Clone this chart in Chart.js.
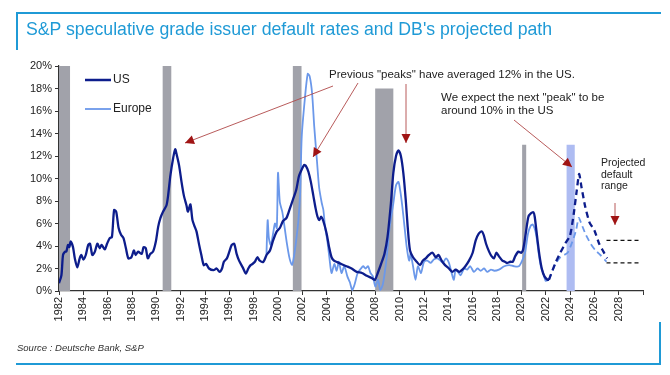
<!DOCTYPE html>
<html>
<head>
<meta charset="utf-8">
<script src="https://cdn.jsdelivr.net/npm/chart.js@4"></script>
<style>
  body { margin: 0; background: #fff; font-family: Arial, "Liberation Sans", sans-serif; }
  #wrap { position: relative; width: 670px; height: 375px; overflow: hidden; }
  #grafico { position: absolute; left: 0; top: 0; }
  .linha { position: absolute; background: #1f9ad6; }
  #titulo { position: absolute; left: 26px; top: 19px; font-size: 17.7px; color: #1f9ad6; white-space: nowrap; }
  #fonte { position: absolute; left: 17px; top: 342px; font-size: 9.5px; font-style: italic; color: #333; }
</style>
</head>
<body>
<div id="wrap">
  <canvas id="grafico" width="670" height="375"></canvas>
  <div class="linha" style="left:16px; top:12px; width:645px; height:2px;"></div>
  <div class="linha" style="left:16px; top:12px; width:2px; height:38px;"></div>
  <div id="titulo">S&amp;P speculative grade issuer default rates and DB's projected path</div>
  <div id="fonte">Source : Deutsche Bank, S&amp;P</div>
  <div class="linha" style="left:16px; top:363px; width:645px; height:2px;"></div>
  <div class="linha" style="left:659px; top:322px; width:2px; height:43px;"></div>
</div>
<script>
// US default rate (year, %)
const usAnos = [1982.0, 1982.2, 1982.33, 1982.5, 1982.6, 1982.74, 1982.85, 1982.96, 1983.15, 1983.3, 1983.5, 1983.7, 1983.84,
  1984.0, 1984.2, 1984.4, 1984.55, 1984.74, 1984.95, 1985.15, 1985.35, 1985.5, 1985.76, 1985.95, 1986.17, 1986.35, 1986.53,
  1986.7, 1986.9, 1987.1, 1987.3, 1987.5, 1987.7, 1987.95, 1988.15, 1988.3, 1988.5, 1988.8, 1988.95, 1989.13, 1989.3, 1989.5,
  1989.73, 1989.96, 1990.15, 1990.34, 1990.55, 1990.83, 1990.97, 1991.16, 1991.38, 1991.55, 1991.7, 1991.88, 1992.07, 1992.26,
  1992.48, 1992.6, 1992.8, 1992.97, 1993.16, 1993.3, 1993.52, 1993.7, 1993.9, 1994.1, 1994.33, 1994.7, 1994.96, 1995.2, 1995.4,
  1995.55, 1995.8, 1996.0, 1996.2, 1996.4, 1996.6, 1996.8, 1997.1, 1997.36, 1997.56, 1997.75, 1997.9, 1998.1, 1998.3, 1998.5,
  1998.8, 1999.06, 1999.34, 1999.6, 1999.9, 2000.15, 2000.4, 2000.7, 2000.98, 2001.25, 2001.5, 2001.72, 2001.95, 2002.15,
  2002.3, 2002.5, 2002.7, 2002.9, 2003.1, 2003.25, 2003.4, 2003.55, 2003.73, 2004.0, 2004.2, 2004.4, 2004.6, 2004.8, 2005.2,
  2005.64, 2006.05, 2006.47, 2006.9, 2007.3, 2007.7, 2007.97, 2008.2, 2008.47, 2008.75, 2009.0, 2009.28, 2009.48, 2009.7,
  2009.9, 2010.1, 2010.3, 2010.5, 2010.66, 2010.85, 2011.1, 2011.4, 2011.67, 2011.9, 2012.14, 2012.4, 2012.7, 2012.96, 2013.2,
  2013.45, 2013.73, 2014.05, 2014.33, 2014.6, 2014.9, 2015.15, 2015.4, 2015.7, 2016.0, 2016.25, 2016.5, 2016.75, 2016.9,
  2017.1, 2017.35, 2017.55, 2017.75, 2017.95, 2018.15, 2018.44, 2018.65, 2018.85, 2019.1, 2019.3, 2019.5, 2019.76, 2020.0,
  2020.15, 2020.36, 2020.58, 2020.78, 2021.0, 2021.1, 2021.3, 2021.5, 2021.7, 2021.9, 2022.15, 2022.27];
const usTaxas = [0.7, 1.4, 3.2, 3.5, 3.5, 4.1, 3.9, 4.4, 3.9, 2.9, 2.1, 2.9, 3.2,
  2.8, 3.2, 4.1, 4.2, 3.2, 3.5, 4.2, 3.8, 4.1, 3.7, 4.2, 4.7, 4.8, 7.2,
  7.05, 5.6, 5.0, 4.7, 3.8, 2.9, 3.0, 3.6, 3.2, 3.5, 3.3, 3.9, 3.8, 2.9, 3.3,
  3.5, 4.4, 5.7, 6.5, 7.05, 7.6, 8.5, 10.3, 11.8, 12.6, 12.0, 11.1, 9.7, 8.5,
  7.6, 7.05, 7.7, 6.3, 5.7, 5.3, 4.1, 3.2, 2.3, 2.4, 2.0, 1.85, 2.0, 1.7, 2.0,
  2.6, 2.9, 3.5, 4.1, 4.2, 3.3, 2.7, 2.1, 1.55, 2.0, 2.3, 2.4, 2.6, 3.0, 2.7,
  2.6, 3.2, 3.6, 4.5, 5.3, 5.6, 6.2, 6.5, 7.35, 8.2, 9.0, 10.2, 10.8, 11.2,
  11.1, 10.6, 9.7, 8.5, 7.3, 6.6, 6.3, 6.6, 6.2, 5.1, 3.9, 3.0, 2.7, 2.6, 2.4,
  2.2, 2.0, 1.7, 1.6, 1.35, 1.15, 1.0, 1.6, 2.4, 3.3, 4.8, 7.8, 10.5, 12.0,
  12.5, 12.0, 10.5, 8.1, 5.7, 3.6, 3.0, 2.6, 2.3, 2.7, 2.9, 3.2, 3.4, 3.0, 3.2,
  2.7, 2.3, 2.0, 1.7, 1.9, 1.7, 1.9, 2.2, 2.7, 3.4, 4.5, 5.1, 5.3, 5.0,
  4.2, 3.5, 3.1, 2.9, 3.4, 3.1, 2.7, 2.6, 2.5, 2.6, 2.6, 3.1, 3.5, 3.4,
  3.7, 5.1, 6.6, 6.9, 7.0, 6.6, 4.8, 3.1, 1.9, 1.3, 1.0, 1.0];

// Europe default rate (year, %)
const euAnos = [1999.05, 1999.15, 1999.25, 1999.4, 1999.55, 1999.75, 1999.9, 2000.0, 2000.15, 2000.35, 2000.55, 2000.75,
  2000.95, 2001.15, 2001.3, 2001.45, 2001.67, 2001.82, 2001.95, 2002.2, 2002.44, 2002.6, 2002.8, 2002.98, 2003.2, 2003.38,
  2003.6, 2003.73, 2003.87, 2004.05, 2004.22, 2004.4, 2004.63, 2004.82, 2005.0, 2005.22, 2005.45, 2005.7, 2005.9, 2006.1,
  2006.3, 2006.55, 2006.82, 2007.0, 2007.2, 2007.4, 2007.6, 2007.8, 2008.0, 2008.22, 2008.4, 2008.62, 2008.9, 2009.18,
  2009.48, 2009.7, 2009.9, 2010.05, 2010.22, 2010.4, 2010.58, 2010.78, 2010.9, 2011.1, 2011.3, 2011.5, 2011.75, 2012.0,
  2012.27, 2012.55, 2012.8, 2013.1, 2013.35, 2013.55, 2013.8, 2014.05, 2014.27, 2014.45, 2014.6, 2014.8, 2015.0, 2015.3,
  2015.55, 2015.8, 2016.1, 2016.4, 2016.66, 2016.94, 2017.2, 2017.5, 2017.78, 2018.16, 2018.6, 2019.0, 2019.4, 2019.8,
  2020.07, 2020.3, 2020.55, 2020.77, 2020.95, 2021.2, 2021.42, 2021.6, 2021.8, 2022.0, 2022.27];
const euTaxas = [3.2, 6.3, 4.7, 4.1, 4.8, 6.0, 5.6, 10.5, 7.9, 7.05, 5.6, 4.1,
  2.9, 2.3, 3.0, 4.1, 6.2, 8.7, 13.7, 17.0, 19.3, 19.1, 17.6, 14.6, 11.6, 9.2,
  7.8, 7.2, 5.7, 4.5, 3.0, 1.6, 2.4, 1.8, 2.6, 1.6, 2.2, 1.3, 0.8, 0.1,
  0.6, 1.6, 2.0, 2.2, 2.0, 2.2, 1.6, 1.3, 0.4, 1.0, 0.1, 0.6, 2.7, 5.7,
  7.8, 9.4, 9.7, 8.9, 7.5, 5.7, 3.9, 2.7, 3.3, 2.2, 1.0, 2.2, 1.6, 2.6,
  2.7, 2.5, 2.8, 2.9, 2.7, 2.5, 2.9, 2.5, 1.6, 1.0, 1.9, 1.7, 1.4, 2.0,
  1.9, 2.2, 1.7, 2.0, 1.8, 2.0, 1.7, 1.9, 1.8, 1.9, 2.2, 2.3, 2.2, 2.2,
  2.7, 3.4, 5.1, 5.8, 5.9, 5.1, 3.4, 2.2, 1.6, 0.9, 1.0];

// DB projections
const usProjAnos = [2022.27, 2022.8, 2023.2, 2023.65, 2024.0, 2024.3, 2024.55, 2024.75, 2024.95, 2025.25, 2025.6, 2026.0, 2026.4, 2026.75, 2027.05];
const usProjTaxas = [1.0, 2.5, 3.4, 4.3, 4.9, 6.8, 8.9, 10.4, 9.2, 7.5, 6.1, 5.4, 4.2, 3.5, 2.9];
const euProjAnos = [2022.27, 2022.8, 2023.2, 2023.8, 2024.2, 2024.5, 2024.72, 2025.0, 2025.3, 2025.7, 2026.1, 2026.5, 2027.0];
const euProjTaxas = [1.0, 2.4, 3.0, 3.4, 4.4, 5.4, 6.5, 5.8, 5.0, 4.2, 3.6, 3.2, 2.6];

// projected default range
const faixaAnos = [2027.0, 2029.7];
const faixaTopo = 4.5;
const faixaBase = 2.5;

// shaded periods (recessions + projected peak)
const sombraInicio = [1982.0, 1990.5, 2001.2, 2007.98, 2020.06, 2023.7];
const sombraFim = [1982.92, 1991.25, 2001.95, 2009.5, 2020.42, 2024.4];
const sombraAltura = [20, 20, 20, 18, 13, 13];
const sombraProjetada = [false, false, false, false, false, true];

const anosEixo = [1982, 2030];

function pontos(anos, taxas) {
  return anos.map((a, i) => ({ x: a, y: taxas[i] }));
}

const datasets = [];

datasets.push({ label: 'US', data: pontos(usAnos, usTaxas), borderColor: '#0d1d8c', borderWidth: 2.3, tension: 0.25, order: 1 });
datasets.push({ label: 'Europe', data: pontos(euAnos, euTaxas), borderColor: '#6b98ea', borderWidth: 1.8, tension: 0.25, order: 2 });
datasets.push({ label: 'US proj', data: pontos(usProjAnos, usProjTaxas), borderColor: '#0d1d8c', borderWidth: 2.3, borderDash: [6, 4], tension: 0.2, order: 1 });
datasets.push({ label: 'Europe proj', data: pontos(euProjAnos, euProjTaxas), borderColor: '#6b98ea', borderWidth: 1.8, borderDash: [6, 4], tension: 0.2, order: 2 });
datasets.push({ label: 'faixa topo', data: faixaAnos.map(a => ({ x: a, y: faixaTopo })), borderColor: '#111', borderWidth: 1.2, borderDash: [4, 3], order: 3 });
datasets.push({ label: 'faixa base', data: faixaAnos.map(a => ({ x: a, y: faixaBase })), borderColor: '#111', borderWidth: 1.2, borderDash: [4, 3], order: 3 });

// each shaded period is a flat line filled down to zero
for (let i = 0; i < sombraInicio.length; i++) {
  datasets.push({
    label: 'sombra' + i,
    data: [{ x: sombraInicio[i], y: sombraAltura[i] }, { x: sombraFim[i], y: sombraAltura[i] }],
    borderWidth: 0,
    borderColor: 'rgba(0,0,0,0)',
    backgroundColor: sombraProjetada[i] ? '#aebcf2' : '#a1a2aa',
    fill: 'origin',
    tension: 0,
    order: 10
  });
}

function seta(ctx, x1, y1, x2, y2) {
  ctx.save();
  ctx.strokeStyle = '#b04848';
  ctx.lineWidth = 0.9;
  ctx.beginPath();
  ctx.moveTo(x1, y1);
  ctx.lineTo(x2, y2);
  ctx.stroke();
  const ang = Math.atan2(y2 - y1, x2 - x1);
  const L = 9, W = 4.5;
  ctx.fillStyle = '#a01414';
  ctx.beginPath();
  ctx.moveTo(x2, y2);
  ctx.lineTo(x2 - L * Math.cos(ang) + W * Math.sin(ang), y2 - L * Math.sin(ang) - W * Math.cos(ang));
  ctx.lineTo(x2 - L * Math.cos(ang) - W * Math.sin(ang), y2 - L * Math.sin(ang) + W * Math.cos(ang));
  ctx.closePath();
  ctx.fill();
  ctx.restore();
}

const anotacoes = {
  id: 'anotacoes',
  afterDraw(chart) {
    const ctx = chart.ctx;
    ctx.save();
    // legend inside the plot
    ctx.lineWidth = 2.5;
    ctx.strokeStyle = '#0d1d8c';
    ctx.beginPath(); ctx.moveTo(85, 80); ctx.lineTo(111, 80); ctx.stroke();
    ctx.lineWidth = 1.8;
    ctx.strokeStyle = '#6b98ea';
    ctx.beginPath(); ctx.moveTo(85, 109); ctx.lineTo(111, 109); ctx.stroke();
    ctx.fillStyle = '#222';
    ctx.font = '12px Arial, "Liberation Sans", sans-serif';
    ctx.textBaseline = 'middle';
    ctx.fillText('US', 113, 80);
    ctx.fillText('Europe', 113, 109);

    ctx.font = '11.5px Arial, "Liberation Sans", sans-serif';
    ctx.fillText('Previous "peaks" have averaged 12% in the US.', 329, 75);
    ctx.fillText('We expect the next "peak" to be', 441, 98);
    ctx.fillText('around 10% in the US', 441, 111);
    ctx.font = '10.5px Arial, "Liberation Sans", sans-serif';
    ctx.fillText('Projected', 601, 163);
    ctx.fillText('default', 601, 175);
    ctx.fillText('range', 601, 186);
    ctx.restore();

    seta(ctx, 333, 86, 185, 143);
    seta(ctx, 358, 83, 313, 157);
    seta(ctx, 406, 84, 406, 143);
    seta(ctx, 514, 120, 572, 167);
    seta(ctx, 615, 203, 615, 225);
  }
};

const ctx = document.getElementById('grafico').getContext('2d');
new Chart(ctx, {
  type: 'line',
  data: { datasets: datasets },
  options: {
    responsive: false,
    animation: false,
    layout: { padding: { left: 15, right: 27, top: 66, bottom: 39 } },
    elements: { point: { radius: 0 } },
    plugins: { legend: { display: false }, tooltip: { enabled: false } },
    scales: {
      x: {
        type: 'linear',
        min: anosEixo[0],
        max: anosEixo[1],
        afterFit: s => { s.height = 45; },
        grid: { drawOnChartArea: false, drawTicks: true, tickLength: 4, color: '#333' },
        border: { display: true, color: '#333', width: 1.2 },
        ticks: {
          stepSize: 2,
          minRotation: 90,
          maxRotation: 90,
          padding: 2,
          color: '#222',
          font: { size: 11, family: 'Arial, "Liberation Sans", sans-serif' },
          callback: v => (v >= 2030 ? '' : String(v))
        }
      },
      y: {
        min: 0,
        max: 20,
        afterFit: s => { s.width = 44; },
        grid: { drawOnChartArea: false, drawTicks: true, tickLength: 4, color: '#333' },
        border: { display: true, color: '#333', width: 1.2 },
        ticks: {
          stepSize: 2,
          padding: 3,
          color: '#222',
          font: { size: 11, family: 'Arial, "Liberation Sans", sans-serif' },
          callback: v => v + '%'
        }
      }
    }
  },
  plugins: [anotacoes]
});
</script>
</body>
</html>
